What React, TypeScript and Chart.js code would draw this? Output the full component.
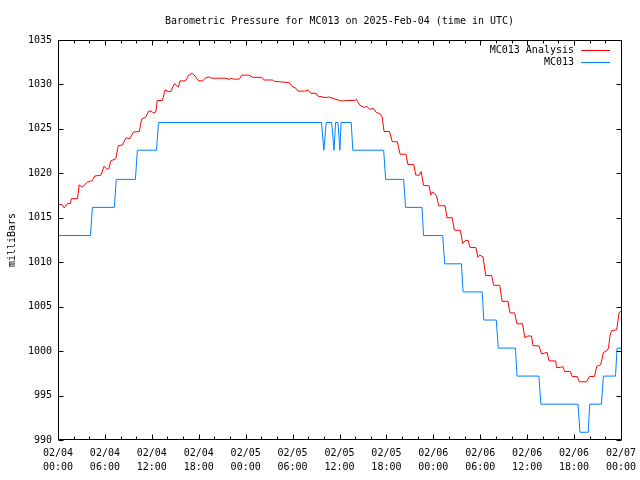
import React, { useEffect, useRef } from 'react';
import { Chart, registerables } from 'chart.js';

Chart.register(...registerables);

const FONT = '"DejaVu Sans Mono", "Liberation Mono", monospace';

const TITLE = 'Barometric Pressure for MC013 on 2025-Feb-04 (time in UTC)';
const Y_TITLE = 'milliBars';
const SERIES_LABELS = ['MC013 Analysis', 'MC013'];
const SERIES_COLORS = ['#ff0000', '#0080ff'];

const X_TICK_DATES = ['02/04', '02/04', '02/04', '02/04', '02/05', '02/05', '02/05', '02/05', '02/06', '02/06', '02/06', '02/06', '02/07'];
const X_TICK_TIMES = ['00:00', '06:00', '12:00', '18:00', '00:00', '06:00', '12:00', '18:00', '00:00', '06:00', '12:00', '18:00', '00:00'];

// hours since 2025-02-04 00:00 UTC
const analysisHours = [
  0, 0.5, 0.8, 1.2, 1.6, 1.7, 2.5, 2.7, 3.1, 3.75, 4.4, 4.7, 5.5, 5.9, 6.2, 6.5, 6.75, 7.4, 7.7, 8.25,
  8.7, 9.2, 9.65, 10.4, 10.7, 11.2, 11.6, 11.9, 12.2, 12.5, 12.7, 13.35, 13.7, 14.1, 14.4, 14.9, 15.4, 15.6, 16.3, 16.7,
  17.2, 17.6, 18.0, 18.5, 18.8, 19.35, 19.6, 21.5, 21.9, 22.1, 22.4, 23.2, 23.5, 24.4, 24.9, 26.0, 26.4, 27.45, 27.7, 29.6,
  29.9, 30.45, 30.7, 31.5, 31.95, 32.4, 33.0, 33.2, 34.3, 34.55, 35.65, 36.2, 36.6, 36.85, 37.9, 38.2, 38.55, 39.2, 39.5, 39.85,
  40.35, 40.7, 41.2, 41.45, 41.7, 42.4, 42.75, 43.4, 43.75, 44.5, 44.75, 45.5, 45.75, 46.2, 46.45, 46.75, 47.45, 47.7, 47.9, 48.4,
  48.7, 49.5, 49.75, 50.4, 50.7, 51.45, 51.75, 52.1, 52.45, 52.7, 53.45, 53.7, 53.95, 54.35, 54.7, 55.45, 55.72, 56.5, 56.8, 57.55,
  57.8, 58.4, 58.7, 59.4, 59.7, 60.1, 60.55, 60.75, 61.5, 61.85, 62.55, 62.8, 63.65, 63.75, 64.3, 64.55, 64.8, 65.5, 65.75, 66.4,
  66.65, 67.6, 67.95, 68.6, 68.9, 69.4, 69.75, 70.1, 70.4, 70.6, 70.8, 71.45, 71.75, 72,
];
const analysisValues = [
  1016.5, 1016.5, 1016.1, 1016.6, 1016.6, 1017.15, 1017.15, 1018.7, 1018.45, 1019.0, 1019.2, 1019.7, 1019.8, 1020.8, 1020.5, 1020.5, 1021.4, 1021.65, 1023.1, 1023.2,
  1024.0, 1023.9, 1024.65, 1024.7, 1026.1, 1026.3, 1027.0, 1027.0, 1026.8, 1026.9, 1028.2, 1028.2, 1029.4, 1029.2, 1029.2, 1030.1, 1029.7, 1030.4, 1030.4, 1031.05,
  1031.25, 1030.85, 1030.4, 1030.4, 1030.7, 1030.85, 1030.7, 1030.7, 1030.55, 1030.7, 1030.6, 1030.6, 1031.05, 1031.05, 1030.8, 1030.8, 1030.5, 1030.5, 1030.35, 1030.2,
  1029.8, 1029.55, 1029.25, 1029.25, 1029.35, 1029.0, 1029.0, 1028.7, 1028.5, 1028.6, 1028.3, 1028.15, 1028.15, 1028.2, 1028.2, 1028.3, 1027.7, 1027.4, 1027.55, 1027.2,
  1027.3, 1026.85, 1026.7, 1026.35, 1024.7, 1024.7, 1023.55, 1023.55, 1022.15, 1022.15, 1021.0, 1021.0, 1019.8, 1019.8, 1020.2, 1018.65, 1018.6, 1017.55, 1017.9, 1017.5,
  1016.35, 1016.35, 1015.0, 1015.0, 1013.6, 1013.6, 1012.1, 1012.45, 1012.45, 1011.65, 1011.65, 1010.55, 1010.8, 1010.6, 1008.5, 1008.5, 1007.4, 1007.4, 1005.6, 1005.6,
  1004.3, 1004.3, 1003.05, 1003.1, 1001.5, 1001.7, 1001.7, 1000.6, 1000.6, 999.7, 999.85, 998.9, 998.9, 998.15, 998.15, 998.3, 997.7, 997.7, 997.15, 997.15,
  996.55, 996.55, 997.15, 997.15, 998.3, 998.45, 999.85, 1000.0, 1000.3, 1001.8, 1002.3, 1002.4, 1004.3, 1004.5,
];

const stationHours = [
  0, 4.15, 4.4, 7.2, 7.45, 9.9, 10.15, 12.6, 12.85, 33.7, 34.0, 34.3, 35.0, 35.3, 35.5, 35.8, 36.05, 36.2, 37.5, 37.7,
  41.65, 41.9, 44.2, 44.45, 46.55, 46.75, 49.2, 49.45, 51.6, 51.8, 54.25, 54.45, 56.05, 56.3, 58.5, 58.7, 61.5, 61.75, 66.5, 66.75,
  67.8, 68.0, 69.5, 69.75, 71.3, 71.5, 72,
];
const stationValues = [
  1013.0, 1013.0, 1016.17, 1016.17, 1019.32, 1019.32, 1022.6, 1022.6, 1025.72, 1025.72, 1022.6, 1025.72, 1025.72, 1022.6, 1025.72, 1025.72, 1022.6, 1025.72, 1025.72, 1022.6,
  1022.6, 1019.32, 1019.32, 1016.17, 1016.17, 1013.0, 1013.0, 1009.82, 1009.82, 1006.66, 1006.66, 1003.5, 1003.5, 1000.34, 1000.34, 997.19, 997.19, 994.03, 994.03, 990.87,
  990.87, 994.03, 994.03, 997.19, 997.19, 1000.34, 1000.34,
];

const X_MIN = 0;
const X_MAX = 72;
const X_STEP = 6;
const X_MINOR_STEP = 2;
const Y_MIN = 990;
const Y_MAX = 1035;
const Y_STEP = 5;

const framePlugin = {
  id: 'gnuFrame',
  afterDatasetsDraw(chart: any) {
    const { ctx, chartArea: a, scales } = chart;
    const xs = scales.x;
    const ys = scales.y;
    const L = Math.round(a.left) + 0.5;
    const R = Math.round(a.right) + 0.5;
    const T = Math.round(a.top) + 0.5;
    const B = Math.round(a.bottom) - 0.5;
    ctx.save();
    ctx.strokeStyle = '#000';
    ctx.lineWidth = 1;
    ctx.beginPath();
    ctx.rect(L, T, R - L, B - T);
    ctx.stroke();
    ctx.beginPath();
    for (let t = X_MIN; t <= X_MAX + 1e-9; t += X_MINOR_STEP) {
      const px = Math.round(xs.getPixelForValue(t)) + 0.5;
      const len = Math.abs(t % X_STEP) < 1e-9 ? 5 : 3;
      ctx.moveTo(px, B);
      ctx.lineTo(px, B - len);
      ctx.moveTo(px, T);
      ctx.lineTo(px, T + len);
    }
    for (let v = Y_MIN; v <= Y_MAX + 1e-9; v += Y_STEP) {
      const py = Math.round(ys.getPixelForValue(v)) + 0.5;
      ctx.moveTo(L, py);
      ctx.lineTo(L + 5, py);
      ctx.moveTo(R, py);
      ctx.lineTo(R - 5, py);
    }
    ctx.stroke();
    ctx.restore();
  },
};

const legendPlugin = {
  id: 'gnuLegend',
  afterDraw(chart: any) {
    const { ctx } = chart;
    ctx.save();
    ctx.font = `10px ${FONT}`;
    ctx.fillStyle = '#000';
    ctx.textAlign = 'right';
    ctx.textBaseline = 'middle';
    chart.data.datasets.forEach((ds: any, i: number) => {
      const y = 50 + i * 12;
      ctx.fillText(ds.label, 574, y);
      ctx.strokeStyle = ds.borderColor;
      ctx.lineWidth = 1;
      ctx.beginPath();
      ctx.moveTo(581, y + 0.5);
      ctx.lineTo(610, y + 0.5);
      ctx.stroke();
    });
    ctx.restore();
  },
};

export default function App() {
  const canvasRef = useRef<HTMLCanvasElement | null>(null);

  useEffect(() => {
    const canvas = canvasRef.current;
    if (!canvas) return;
    const chart = new Chart(canvas, {
      type: 'line',
      data: {
        datasets: [
          {
            label: SERIES_LABELS[0],
            data: analysisHours.map((h, i) => ({ x: h, y: analysisValues[i] })),
            borderColor: SERIES_COLORS[0],
            backgroundColor: SERIES_COLORS[0],
            borderWidth: 1,
            pointRadius: 0,
            tension: 0,
            fill: false,
          },
          {
            label: SERIES_LABELS[1],
            data: stationHours.map((h, i) => ({ x: h, y: stationValues[i] })),
            borderColor: SERIES_COLORS[1],
            backgroundColor: SERIES_COLORS[1],
            borderWidth: 1,
            pointRadius: 0,
            tension: 0,
            fill: false,
          },
        ],
      },
      options: {
        responsive: false,
        animation: false,
        devicePixelRatio: 1,
        layout: { padding: { left: 0, right: 19, top: 0, bottom: 0 } },
        plugins: {
          legend: { display: false },
          tooltip: { enabled: false },
          title: {
            display: true,
            text: TITLE,
            fullSize: false,
            color: '#000',
            font: { family: FONT, size: 10, weight: 'normal', lineHeight: 1.2 },
            padding: { top: 15, bottom: 13 },
          },
        },
        scales: {
          x: {
            type: 'linear',
            min: X_MIN,
            max: X_MAX,
            afterFit: (s: any) => {
              s.height = 40;
              s.paddingLeft = 0;
              s.paddingRight = 0;
            },
            grid: { display: false, drawTicks: false },
            border: { display: false },
            ticks: {
              stepSize: X_STEP,
              autoSkip: false,
              maxRotation: 0,
              minRotation: 0,
              padding: 6,
              color: '#000',
              font: { family: FONT, size: 10, lineHeight: 1.4 },
              callback: (v: any) => {
                const i = Math.round(Number(v) / X_STEP);
                return [X_TICK_DATES[i], X_TICK_TIMES[i]];
              },
            },
          },
          y: {
            type: 'linear',
            min: Y_MIN,
            max: Y_MAX,
            afterFit: (s: any) => {
              s.width = 58;
              s.paddingTop = 0;
              s.paddingBottom = 0;
            },
            grid: { display: false, drawTicks: false },
            border: { display: false },
            ticks: {
              stepSize: Y_STEP,
              padding: 6,
              color: '#000',
              font: { family: FONT, size: 10 },
              callback: (v: any) => String(v),
            },
            title: {
              display: true,
              text: Y_TITLE,
              color: '#000',
              font: { family: FONT, size: 10, lineHeight: 1.2 },
              padding: { top: 6, bottom: 0 },
            },
          },
        },
      },
      plugins: [framePlugin, legendPlugin],
    } as any);
    return () => chart.destroy();
  }, []);

  return (
    <div style={{ position: 'absolute', left: 0, top: 0, width: 640, height: 480, background: '#fff' }}>
      <canvas ref={canvasRef} width={640} height={480} style={{ display: 'block' }} />
    </div>
  );
}
